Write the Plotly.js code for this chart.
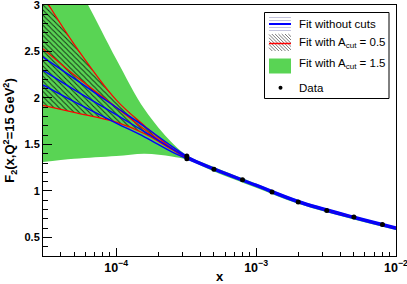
<!DOCTYPE html>
<html><head><meta charset="utf-8">
<script src="https://cdn.plot.ly/plotly-3.0.1.min.js"></script>
<style>html,body{margin:0;padding:0;background:#fff}</style>
</head><body>
<div id="chart" style="width:407px;height:284px"></div>
<script>
// ---- data ----
const xFit = [3e-5, 5e-5, 1e-4, 1.6e-4, 2.5e-4, 3.2e-4, 5e-4, 1e-3, 2e-3, 5e-3, 1e-2];
const blueCentral = [2.30, 2.09, 1.82, 1.635, 1.455, 1.36, 1.235, 1.06, 0.885, 0.715, 0.600];
const blueUpper   = [2.44, 2.21, 1.90, 1.690, 1.480, 1.375, 1.247, 1.072, 0.897, 0.727, 0.612];
const blueLower   = [2.14, 1.96, 1.73, 1.580, 1.420, 1.345, 1.223, 1.048, 0.873, 0.703, 0.588];
const redUpper    = [3.10, 2.58, 1.98, 1.700, 1.460, 1.370, 1.240, 1.064, 0.889, 0.719, 0.604];
const redCentral  = [2.53, 2.25, 1.90, 1.660, 1.450, 1.365, 1.237, 1.062, 0.887, 0.717, 0.602];
const redLower    = [1.92, 1.845, 1.74, 1.615, 1.445, 1.355, 1.232, 1.058, 0.883, 0.713, 0.598];
const xGreenUp = [3e-5, 5e-5, 6.3e-5, 1e-4, 1.6e-4, 2.5e-4, 3.2e-4, 5e-4, 1e-3, 2e-3, 5e-3, 1e-2];
const greenUpper = [3.95, 3.26, 3.00, 2.42, 1.875, 1.52, 1.385, 1.258, 1.080, 0.902, 0.730, 0.614];
const greenLower = [1.31, 1.345, 1.375, 1.40, 1.37, 1.335, 1.210, 1.035, 0.862, 0.693, 0.580];
const xData = [3.2e-4, 3.2e-4, 5e-4, 8e-4, 1.3e-3, 2e-3, 3.2e-3, 5e-3, 8e-3];
const yData = [1.375, 1.345, 1.234, 1.121, 0.989, 0.880, 0.790, 0.720, 0.638];
const legendLabels = ["Fit without cuts", "Fit with A<sub>cut</sub> = 0.5", "Fit with A<sub>cut</sub> = 1.5", "Data"];

const GREEN = "#59d454";
const traces = [
  {x: xFit, y: greenLower, mode: "lines", line: {width: 0, shape: "spline", color: GREEN}, hoverinfo: "skip"},
  {x: xGreenUp, y: greenUpper, mode: "lines", line: {width: 0, shape: "spline", color: GREEN}, fill: "tonexty", fillcolor: GREEN, hoverinfo: "skip"},
  {x: xFit, y: redLower, mode: "lines", line: {width: 0, shape: "spline"}, hoverinfo: "skip"},
  {x: xFit, y: redUpper, mode: "lines", line: {width: 0, shape: "spline"}, fill: "tonexty", fillcolor: "rgba(0,0,0,0)",
    fillpattern: {shape: "\\", fgcolor: "#143014", bgcolor: "rgba(0,0,0,0)", size: 3.6, solidity: 0.28}, hoverinfo: "skip"},
  {x: xFit, y: redUpper, mode: "lines", line: {width: 1.2, shape: "spline", color: "#ff0000"}},
  {x: xFit, y: redCentral, mode: "lines", line: {width: 1.2, shape: "spline", color: "#ff0000"}},
  {x: xFit, y: redLower, mode: "lines", line: {width: 1.2, shape: "spline", color: "#ff0000"}},
  {x: xFit, y: blueUpper, mode: "lines", line: {width: 1.4, shape: "spline", color: "#0000ff"}},
  {x: xFit, y: blueCentral, mode: "lines", line: {width: 1.4, shape: "spline", color: "#0000ff"}},
  {x: xFit, y: blueLower, mode: "lines", line: {width: 1.4, shape: "spline", color: "#0000ff"}},
  {x: xData, y: yData, mode: "markers", marker: {size: 5, color: "#000"}}
];

// legend geometry (pixel -> paper)
const L = 43, R = 396, T = 5, B = 256;
const PX = p => (p - L) / (R - L);
const PY = p => (B - p) / (B - T);
const shapes = [];
const ann = [];
function seg(x0, y0, x1, y1, color, w) {
  shapes.push({type: "line", xref: "paper", yref: "paper", x0: PX(x0), y0: PY(y0), x1: PX(x1), y1: PY(y1),
    line: {color: color, width: w}});
}
shapes.push({type: "rect", xref: "paper", yref: "paper", x0: PX(264.5), x1: PX(389), y0: PY(12.5), y1: PY(98.5),
  line: {color: "#000", width: 1}, fillcolor: "#fff", layer: "above"});
[17.5, 20.5, 27.5, 30.5].forEach(y => seg(269, y, 291, y, "#c4c4dc", 1));
seg(269, 24, 291, 24, "#0000ff", 2);
const hx0 = 269, hx1 = 291, hy0 = 34, hy1 = 51, H = hy1 - hy0;
for (let c = -H; c < (hx1 - hx0); c += 3.3) {
  const t0 = Math.max(0, -c), t1 = Math.min(H, (hx1 - hx0) - c);
  if (t1 > t0) seg(hx0 + c + t0, hy0 + t0, hx0 + c + t1, hy0 + t1, "#555", 0.8);
}
seg(269, 43.5, 291, 43.5, "#ff0000", 1.5);
shapes.push({type: "rect", xref: "paper", yref: "paper", x0: PX(269), x1: PX(291), y0: PY(58.5), y1: PY(73.5),
  line: {width: 0}, fillcolor: GREEN, layer: "above"});
shapes.push({type: "circle", xref: "paper", yref: "paper", x0: PX(278.5), x1: PX(282.5), y0: PY(85.8), y1: PY(89.8),
  line: {width: 0}, fillcolor: "#000", layer: "above"});
[24, 43.5, 64, 88].forEach((y, i) => ann.push({xref: "paper", yref: "paper", x: PX(296.5), y: PY(y), xanchor: "left", yanchor: "middle",
  text: legendLabels[i], showarrow: false, font: {family: "Liberation Sans, Arial, sans-serif", size: 11.5, color: "#000"}}));

const tickFont = {family: "Liberation Sans, Arial, sans-serif", size: 11, color: "#000", weight: "bold"};
const xTickFont = {family: "Liberation Sans, Arial, sans-serif", size: 10, color: "#000", weight: "bold"};
const layout = {
  width: 407, height: 284,
  margin: {l: L, r: 407 - R, t: T, b: 284 - B, pad: 0},
  paper_bgcolor: "#fff", plot_bgcolor: "#fff",
  showlegend: false,
  xaxis: {type: "log", range: [Math.log10(3e-5), -2], dtick: 1, exponentformat: "power",
    ticks: "inside", ticklen: 8, tickcolor: "#000", tickwidth: 1, ticklabeloverflow: "allow",
    minor: {dtick: "D1", ticks: "inside", ticklen: 4, tickcolor: "#000"},
    showline: true, linecolor: "#000", linewidth: 1, mirror: true, showgrid: false, zeroline: false,
    tickfont: xTickFont,
    title: {text: "<b>x</b>", font: {family: "Liberation Sans, Arial, sans-serif", size: 13, color: "#000"}, standoff: 3}},
  yaxis: {range: [0.3, 3], tick0: 0.5, dtick: 0.5, ticklabeloverflow: "allow",
    ticks: "inside", ticklen: 9, tickcolor: "#000",
    minor: {dtick: 0.1, ticks: "inside", ticklen: 5, tickcolor: "#000"},
    showline: true, linecolor: "#000", linewidth: 1, mirror: true, showgrid: false, zeroline: false,
    tickfont: tickFont,
    title: {text: "<b>F<sub>2</sub>(x,Q<sup>2</sup>=15 GeV<sup>2</sup>)</b>", font: {family: "Liberation Sans, Arial, sans-serif", size: 13, color: "#000"}, standoff: 6}},
  shapes: shapes,
  annotations: ann
};
Plotly.newPlot("chart", traces, layout, {staticPlot: true, displayModeBar: false});
</script>
</body></html>
